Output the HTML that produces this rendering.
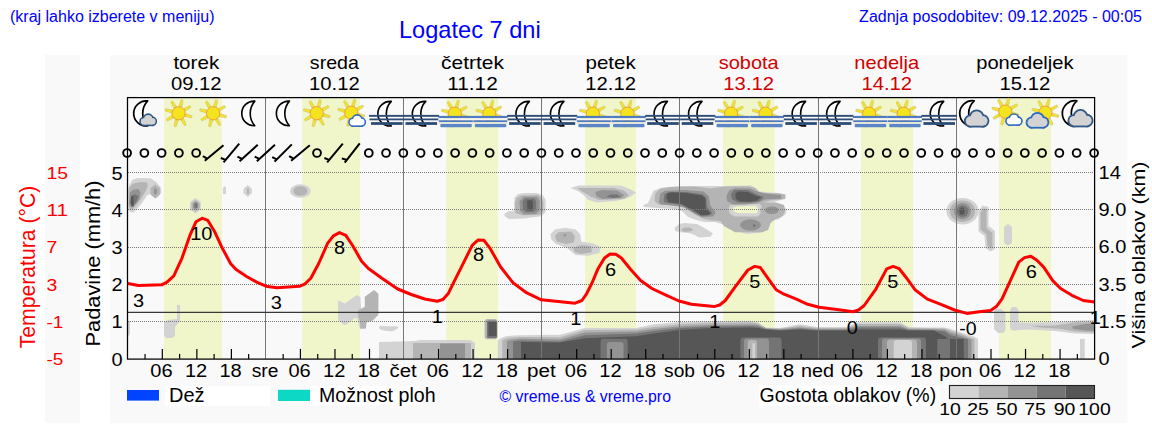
<!DOCTYPE html>
<html><head><meta charset="utf-8"><style>
html,body{margin:0;padding:0;background:#fff;overflow:hidden;}
svg{display:block;font-family:'Liberation Sans', sans-serif;}
</style></head><body>
<svg width="1152" height="443" viewBox="0 0 1152 443">
<rect x="0" y="0" width="1152" height="443" fill="#fff"/>
<rect x="45" y="55" width="35" height="368" fill="#f9f9f9"/>
<rect x="110" y="55" width="1017.5" height="368" fill="#f9f9f9"/>
<rect x="164" y="97.6" width="58.0" height="261.2" fill="#f0f6c9"/>
<rect x="302.2" y="97.6" width="57.8" height="261.2" fill="#f0f6c9"/>
<rect x="446.3" y="97.6" width="51.7" height="261.2" fill="#f0f6c9"/>
<rect x="585" y="97.6" width="51.0" height="261.2" fill="#f0f6c9"/>
<rect x="723" y="97.6" width="51.5" height="261.2" fill="#f0f6c9"/>
<rect x="861" y="97.6" width="52.0" height="261.2" fill="#f0f6c9"/>
<rect x="999" y="97.6" width="52.0" height="261.2" fill="#f0f6c9"/>
<g shape-rendering="auto">
<polygon points="129.2,185.5 132.3,179.8 137.5,178.0 150.5,178.2 156.2,181.9 160.8,187.6 161.4,192.8 156.2,198.5 151.0,193.5 146.8,195.4 142.7,202.1 137.5,208.4 133.3,212.5 129.7,212.0 128.2,206.3 128.2,190.0" fill="#d3d3d3" />
<polygon points="129.2,187.6 133.3,183.4 140.6,181.9 146.8,182.4 147.9,185.5 145.8,190.7 141.6,198.0 136.4,205.2 132.3,210.0 129.2,208.4" fill="#b3b4b3" />
<polygon points="155.1,184.5 159.8,188.0 159.8,194.5 155.1,198.5 150.5,194.5 150.5,188.0" fill="#b3b4b3" />
<polygon points="129.7,192.8 133.3,189.7 138.5,189.1 140.6,192.8 139.5,199.0 135.4,204.2 131.2,207.3 129.2,205.2" fill="#939393" />
<polygon points="155.3,187.6 156.9,190.0 156.9,193.0 155.3,194.9 153.9,193.0 153.9,190.0" fill="#939393" />
<polygon points="131.2,195.4 135.4,194.3 138.5,196.4 136.4,202.1 132.8,206.3 130.2,203.2" fill="#747474" />
<polygon points="131.2,196.4 133.3,195.9 133.8,206.3 131.7,206.8 130.7,202.1" fill="#565656" />
<polygon points="195.4,198.0 200.8,202.0 200.8,209.5 195.4,213.6 190.0,209.5 190.0,202.0" fill="#d3d3d3" />
<polygon points="195.6,200.0 199.8,203.0 199.8,208.5 195.6,211.5 191.5,208.5 191.5,203.0" fill="#b3b4b3" />
<polygon points="195.6,201.6 198.2,204.0 198.2,207.5 195.6,209.4 193.0,207.5 193.0,204.0" fill="#939393" />
<rect x="194.6" y="203.2" width="2.6" height="4.6" rx="0" fill="#747474"/>
<polygon points="223.0,188.0 224.5,186.0 226.0,188.0 226.0,194.0 223.0,194.0" fill="#d3d3d3" />
<polygon points="247.7,185.0 252.0,189.0 252.0,193.0 247.7,197.0 243.4,193.0 243.4,189.0" fill="#d3d3d3" />
<rect x="247" y="188.5" width="2.0" height="5.5" rx="0" fill="#b3b4b3"/>
<polygon points="177.0,305.0 180.0,305.0 180.0,321.0 175.0,327.0 175.0,336.0 172.0,338.0 166.0,338.0 164.0,335.0 164.0,322.0 168.0,320.0 177.0,319.0" fill="#d3d3d3" />
<polygon points="127.8,321.0 130.0,321.0 130.0,334.0 127.8,337.0" fill="#d3d3d3" />
<ellipse cx="300.4" cy="191" rx="10.4" ry="6.8" fill="#d3d3d3"/>
<ellipse cx="300.4" cy="191" rx="7" ry="4.8" fill="#b3b4b3"/>
<polygon points="338.1,300.5 344.9,303.6 356.7,294.9 360.4,296.8 361.1,308.6 359.2,318.5 354.8,317.9 346.1,324.8 343.7,324.8 338.1,319.8" fill="#d3d3d3" />
<polygon points="357.0,318.0 366.0,320.0 366.0,329.0 360.0,329.0" fill="#d3d3d3" />
<polygon points="358.0,310.5 364.8,306.7 364.8,296.8 374.1,290.0 378.4,293.7 378.4,314.8 372.2,321.0 366.6,322.3 366.0,327.9 360.4,328.5 359.8,321.0 358.0,316.0" fill="#b3b4b3" />
<polygon points="379.1,326.0 398.9,326.6 397.1,329.1 392.1,331.6 382.2,330.3 379.1,328.5" fill="#d3d3d3" />
<polygon points="379.0,358.8 379.0,342.0 415.0,341.0 420.0,340.0 470.0,340.0 475.0,343.0 475.0,358.8" fill="#d3d3d3" />
<rect x="413" y="343" width="58.0" height="15.8" rx="0" fill="#b3b4b3"/>
<rect x="440" y="343.5" width="25.0" height="15.3" rx="0" fill="#939393"/>
<rect x="484.6" y="319" width="12.9" height="20.3" rx="3" fill="#b3b4b3"/>
<rect x="487" y="320.5" width="10.0" height="17.5" rx="1.5" fill="#747474"/>
<rect x="488.5" y="322" width="7.9" height="14.0" rx="0" fill="#565656"/>
<polygon points="504.1,213.9 508.1,211.2 514.0,210.7 514.5,197.6 518.1,194.0 524.4,193.0 536.1,193.1 542.5,194.9 545.6,199.5 545.6,212.1 541.6,216.2 535.2,217.1 524.4,218.4 509.0,218.9 505.0,216.6" fill="#d3d3d3" />
<polygon points="516.3,198.5 520.8,195.4 537.9,194.9 541.6,197.6 543.4,202.2 543.4,211.2 539.7,214.8 522.6,215.3 515.4,213.0 514.9,203.1" fill="#b3b4b3" />
<polygon points="519.4,201.3 523.5,196.7 537.0,196.7 539.7,200.4 539.7,210.3 536.1,213.9 524.4,214.4 520.3,211.2" fill="#939393" />
<polygon points="522.6,201.3 525.3,198.5 534.3,198.5 536.1,201.3 536.1,209.4 533.4,212.1 526.2,212.1 523.0,209.4" fill="#747474" />
<polygon points="527.1,200.4 532.1,199.9 533.0,203.1 533.0,209.4 530.7,210.7 527.6,210.3 527.1,204.9" fill="#565656" />
<polygon points="570.3,188.1 578.4,185.4 620.8,185.4 629.8,189.0 636.2,192.6 629.8,197.1 617.2,200.8 597.3,202.6 588.3,199.9 582.9,194.4 577.5,190.8" fill="#d3d3d3" />
<polygon points="577.5,188.1 613.6,188.1 624.4,190.8 628.9,195.3 624.4,199.0 599.2,199.9 590.1,196.2 581.1,190.8" fill="#b3b4b3" />
<polygon points="595.5,191.7 602.8,189.9 617.2,190.8 624.4,195.3 620.8,198.1 602.8,199.0 596.4,196.2" fill="#939393" />
<polygon points="606.4,197.1 610.0,194.4 617.2,194.4 620.8,197.1 613.6,198.1" fill="#747474" />
<polygon points="550.4,234.2 554.9,229.6 564.9,227.8 575.7,229.6 580.2,234.2 581.1,241.4 592.0,243.2 601.0,246.8 599.2,253.1 588.3,255.8 575.7,254.9 566.7,247.7 555.8,244.1 551.3,239.6" fill="#d3d3d3" />
<polygon points="554.9,236.0 558.5,232.3 571.2,231.4 574.8,236.0 573.9,242.3 565.8,244.1 556.7,241.4" fill="#b3b4b3" />
<polygon points="573.0,247.7 581.1,245.0 591.0,245.9 591.9,252.2 581.1,254.0 574.8,252.2" fill="#b3b4b3" />
<polygon points="563.0,234.2 566.7,234.2 564.9,236.9" fill="#939393" />
<path fill-rule="evenodd" fill="#d3d3d3" d="M643.4,205 L648.1,203 L653.5,190.8 L661.7,187.4 L680.6,186.1 L720,186.1 L723.1,186.1 L751.5,185.4 L759.7,191.5 L778.6,192.9 L785.4,196.2 L782.7,199.6 L774.5,201.7 L782.7,204.4 L786.7,209.8 L785.4,214.5 L778.6,219.2 L770.5,221.3 L769.1,227.4 L761,232.8 L746.1,234.1 L735.3,230.7 L724.5,224.7 L715,222 L703.6,222 L694.1,219.2 L687.4,216.5 L682,211.1 L673.8,209.1 L653.5,207.7 L644,207 Z M732.6,207.7 L736.7,206.4 L755.6,205.7 L758.3,208.4 L757,213.2 L739.4,213.2 L734,211.8 Z"/>
<path fill-rule="evenodd" fill="#b3b4b3" d="M655.3,193.5 L659.9,189 L670.7,187.1 L694.2,186.6 L710.4,188.5 L721.2,187 L726.6,186.5 L748.3,186.3 L755.5,188 L759.1,192 L766.4,193 L780.8,193.5 L785.4,194.5 L785.4,199 L770,200.5 L764,202.5 L776,202.8 L784,205 L785,211 L782.6,216 L775,219.3 L770.5,223 L768,230 L762,232.2 L735,232.2 L724,226 L720.5,221 L712.2,220.5 L703.2,218.7 L694.2,214.2 L686.9,208.8 L676.1,205.2 L658,204.3 L654.4,200.7 Z M729.5,205.5 L735,204.5 L760,204 L762,207 L760.5,213.5 L758,216.5 L735,216.5 L730,214 L728.5,210 Z"/>
<polygon points="658.9,201.7 660.3,193.5 665.0,190.8 684.7,190.1 703.6,191.5 709.0,196.2 710.4,205.7 715.8,212.5 713.1,216.5 702.2,217.2 694.1,213.2 683.3,207.1 667.1,205.0 660.3,204.4" fill="#939393" />
<polygon points="726.4,196.0 729.0,190.5 735.0,188.3 750.0,188.5 757.0,191.5 765.0,193.5 781.0,195.0 781.3,198.5 765.0,199.5 757.0,203.0 745.0,204.5 733.0,204.5 727.0,201.0" fill="#939393" />
<polygon points="663.7,200.3 664.4,194.2 668.4,192.2 686.0,191.9 702.2,194.2 706.3,197.6 707.0,207.1 712.4,213.2 709.0,215.5 700.9,215.9 691.4,210.4 682.0,205.0 667.1,203.0 664.4,202.3" fill="#747474" />
<polygon points="731.0,194.0 734.0,190.0 748.0,190.0 757.0,194.5 763.7,197.0 760.0,201.0 752.0,202.4 738.0,202.4 732.0,199.5" fill="#747474" />
<polygon points="666.4,197.6 667.1,193.5 671.1,192.2 686.0,192.9 702.2,195.6 705.6,198.9 705.6,208.4 710.4,213.2 707.7,214.9 700.9,214.9 691.4,209.1 680.6,203.7 668.4,202.3" fill="#565656" />
<polygon points="735.2,194.0 738.0,191.5 748.0,192.0 756.0,196.0 761.0,197.0 757.0,200.5 750.0,201.7 740.0,201.5 736.0,199.0" fill="#565656" />
<ellipse cx="750.5" cy="225" rx="10.5" ry="5.8" fill="#939393"/>
<ellipse cx="754.2" cy="225.4" rx="1.2" ry="1.5" fill="#747474"/>
<ellipse cx="772" cy="211" rx="11.5" ry="8" fill="#b3b4b3"/>
<ellipse cx="771.8" cy="210.2" rx="6.8" ry="3.8" fill="#939393"/>
<polygon points="674.5,228.0 679.2,224.0 684.7,223.0 696.8,224.0 703.6,227.4 713.1,233.5 710.4,236.8 699.5,237.5 691.4,233.5 679.2,232.1 675.2,230.7" fill="#d3d3d3" />
<polygon points="681.3,229.4 684.7,227.4 690.0,227.4 693.5,230.0 690.0,231.4 683.3,231.7" fill="#b3b4b3" />
<ellipse cx="962.5" cy="211.2" rx="16" ry="13.3" fill="#d3d3d3"/>
<ellipse cx="962.5" cy="211.2" rx="12.5" ry="10.8" fill="#b3b4b3"/>
<ellipse cx="962.5" cy="211.2" rx="8.5" ry="8.3" fill="#939393"/>
<ellipse cx="962.5" cy="211.2" rx="5.8" ry="5.8" fill="#747474"/>
<ellipse cx="962" cy="211.2" rx="2.6" ry="3.6" fill="#565656"/>
<polygon points="978.5,211.0 982.5,205.5 988.5,207.0 988.5,226.0 995.0,231.0 995.0,249.0 990.5,251.5 985.5,248.0 984.5,236.0 978.5,231.5" fill="#d3d3d3" />
<polygon points="980.5,212.5 983.5,208.5 986.5,209.0 986.5,228.0 992.5,233.0 992.5,247.0 990.5,248.5 987.5,246.0 986.5,234.5 980.5,229.5" fill="#b3b4b3" />
<polygon points="1004.0,227.0 1008.0,224.0 1012.0,227.0 1012.0,243.0 1008.0,245.5 1004.0,243.0" fill="#d3d3d3" />
<polygon points="497.8,358.8 497.8,341.0 500.0,338.5 505.0,336.5 510.0,335.8 520.0,335.3 560.0,334.7 585.0,327.9 636.0,327.9 654.0,324.2 680.0,322.0 710.0,321.2 750.0,320.7 758.0,322.5 766.0,327.5 780.0,328.0 800.0,324.3 817.0,327.0 846.0,327.0 858.0,322.3 900.0,322.3 909.0,327.0 930.0,327.5 944.5,327.5 950.0,328.8 962.7,333.0 974.4,336.7 978.0,338.9 978.0,358.8" fill="#d3d3d3" />
<polygon points="502.3,358.8 502.3,340.0 505.0,339.0 510.0,337.8 520.0,337.0 560.0,337.3 585.0,330.0 636.0,329.5 654.0,326.9 680.0,324.2 710.0,323.0 750.0,322.5 758.0,323.5 766.0,328.0 780.0,328.5 800.0,326.0 817.0,328.0 846.0,328.0 858.0,324.0 900.0,324.0 909.0,328.0 930.0,328.3 944.5,328.6 950.0,330.5 962.7,334.5 971.0,338.0 974.5,339.0 974.5,358.8" fill="#b3b4b3" />
<polygon points="506.9,358.8 506.9,341.0 510.0,340.0 520.0,338.8 560.0,339.4 585.0,332.6 636.0,331.5 654.0,329.0 680.0,326.2 710.0,325.0 750.0,324.5 758.0,325.0 766.0,328.5 780.0,329.2 800.0,327.5 817.0,329.0 846.0,329.0 858.0,325.9 900.0,325.9 909.0,329.0 930.0,329.2 944.5,329.5 950.0,332.5 962.7,336.2 968.0,338.6 971.5,339.5 971.5,358.8" fill="#939393" />
<polygon points="513.0,358.8 513.0,341.5 520.0,340.5 560.0,341.4 585.0,335.2 636.0,333.6 654.0,331.0 680.0,328.0 710.0,326.5 750.0,326.0 758.0,326.5 766.0,329.0 780.0,330.0 800.0,328.5 817.0,330.0 846.0,330.0 858.0,327.5 900.0,327.5 909.0,330.0 930.0,330.0 944.5,331.3 950.0,335.0 962.7,338.2 968.0,339.0 968.0,358.8" fill="#747474" />
<polygon points="521.0,358.8 521.0,342.0 560.0,342.6 585.0,338.3 636.0,336.2 654.0,333.6 680.0,330.0 710.0,328.0 750.0,327.5 758.0,328.0 766.0,329.5 780.0,330.6 800.0,329.5 817.0,330.6 846.0,330.6 858.0,329.5 900.0,329.5 909.0,330.6 930.0,330.4 934.0,330.4 946.8,337.3 947.0,339.0 937.3,339.0 937.3,358.8" fill="#565656" />
<rect x="950" y="338.9" width="13.8" height="19.9" rx="0" fill="#565656"/>
<path d="M600.6,358.8 L600.6,341.8 Q600.6,338.8 603.6,338.8 L624.7,338.8 Q627.7,338.8 627.7,341.8 L627.7,358.8Z" fill="#747474"/>
<path d="M606.9,358.8 L606.9,345 Q606.9,342 609.9,342 L620.5,342 Q623.5,342 623.5,345 L623.5,358.8Z" fill="#939393"/>
<path d="M740.4,358.8 L740.4,340.4 Q740.4,337.4 743.4,337.4 L778.6,337.4 Q781.6,337.4 781.6,340.4 L781.6,358.8Z" fill="#747474"/>
<path d="M744,358.8 L744,341.4 Q744,338.4 747,338.4 L766,338.4 Q769,338.4 769,341.4 L769,358.8Z" fill="#939393"/>
<path d="M747.7,358.8 L747.7,342.5 Q747.7,340 750.2,340 L754.5,340 Q757,340 757,342.5 L757,358.8Z" fill="#b3b4b3"/>
<path d="M752.4,358.8 L752.4,344.2 Q752.4,343 753.6,343 L753.8,343 Q755,343 755,344.2 L755,358.8Z" fill="#d3d3d3"/>
<path d="M878,358.8 L878,340.4 Q878,337.4 881,337.4 L923,337.4 Q926,337.4 926,340.4 L926,358.8Z" fill="#747474"/>
<path d="M882,358.8 L882,341.4 Q882,338.4 885,338.4 L918,338.4 Q921,338.4 921,341.4 L921,358.8Z" fill="#939393"/>
<path d="M887,358.8 L887,342.4 Q887,339.4 890,339.4 L914,339.4 Q917,339.4 917,342.4 L917,358.8Z" fill="#b3b4b3"/>
<path d="M893.75,358.8 L893.75,343 Q893.75,340 896.75,340 L909,340 Q912,340 912,343 L912,358.8Z" fill="#d3d3d3"/>
<polygon points="996.0,308.7 1001.0,308.7 1005.4,313.0 1005.4,330.0 1003.0,333.0 998.0,333.0 994.0,329.0 994.0,312.0" fill="#d3d3d3" />
<polygon points="1012.0,307.0 1016.0,307.0 1018.5,310.0 1018.5,322.5 1030.0,322.8 1060.0,322.0 1080.0,320.5 1094.6,320.0 1094.6,334.0 1075.0,333.5 1055.0,331.0 1030.0,329.5 1018.5,330.0 1016.0,330.6 1012.0,330.6 1010.0,328.0 1010.0,310.0" fill="#d3d3d3" />
<polygon points="1030.0,325.8 1055.0,325.5 1075.0,322.5 1094.6,322.0 1094.6,332.5 1075.0,331.5 1060.0,328.8 1040.0,327.5" fill="#b3b4b3" />
<polygon points="1072.0,326.5 1085.0,324.0 1094.6,323.8 1094.6,331.0 1085.0,330.5 1073.0,328.8" fill="#939393" />
<rect x="1080" y="338.9" width="4.7" height="19.9" rx="0" fill="#d3d3d3"/>
</g>
<line x1="128" y1="321.50" x2="1094" y2="321.50" stroke="#7a7a7a" stroke-width="1" stroke-dasharray="1,1" shape-rendering="crispEdges"/>
<line x1="128" y1="284.50" x2="1094" y2="284.50" stroke="#7a7a7a" stroke-width="1" stroke-dasharray="1,1" shape-rendering="crispEdges"/>
<line x1="128" y1="247.50" x2="1094" y2="247.50" stroke="#7a7a7a" stroke-width="1" stroke-dasharray="1,1" shape-rendering="crispEdges"/>
<line x1="128" y1="209.50" x2="1094" y2="209.50" stroke="#7a7a7a" stroke-width="1" stroke-dasharray="1,1" shape-rendering="crispEdges"/>
<line x1="128" y1="172.50" x2="1094" y2="172.50" stroke="#7a7a7a" stroke-width="1" stroke-dasharray="1,1" shape-rendering="crispEdges"/>
<line x1="265.50" y1="97.6" x2="265.50" y2="358.8" stroke="#767676" stroke-width="1"/>
<line x1="403.50" y1="97.6" x2="403.50" y2="358.8" stroke="#767676" stroke-width="1"/>
<line x1="541.50" y1="97.6" x2="541.50" y2="358.8" stroke="#767676" stroke-width="1"/>
<line x1="679.50" y1="97.6" x2="679.50" y2="358.8" stroke="#767676" stroke-width="1"/>
<line x1="818.50" y1="97.6" x2="818.50" y2="358.8" stroke="#767676" stroke-width="1"/>
<line x1="956.50" y1="97.6" x2="956.50" y2="358.8" stroke="#767676" stroke-width="1"/>
<line x1="127.8" y1="312.4" x2="1094.6" y2="312.4" stroke="#383838" stroke-width="1.15"/>
<polyline points="127.8,283.5 138.5,285.4 161.6,284.8 167.0,282.1 173.8,275.9 181.9,258.3 190.0,235.2 196.0,221.7 202.2,218.2 207.7,220.3 214.4,231.2 222.6,248.8 230.7,263.7 236.1,269.6 247.0,276.7 257.8,282.7 266.0,286.2 276.9,287.7 299.5,286.3 305.1,283.8 310.8,278.2 318.7,263.5 327.7,243.2 333.4,235.8 339.5,232.6 345.8,235.3 352.6,245.5 361.6,261.3 368.4,268.5 381.9,278.2 397.7,289.0 411.3,294.5 424.8,299.0 437.2,301.3 442.9,299.5 448.5,293.2 454.2,281.4 461.0,267.9 472.2,245.3 477.9,240.1 484.0,240.3 490.3,248.7 500.5,266.8 512.9,282.6 526.4,292.7 541.3,299.8 575.1,303.2 581.9,300.5 586.4,294.2 592.0,283.0 597.7,269.3 604.5,258.0 610.1,254.0 615.8,254.2 621.4,258.0 630.5,269.3 640.6,280.6 651.9,288.5 665.4,294.9 679.0,301.0 691.4,304.3 703.9,305.5 714.0,306.6 719.7,305.0 725.3,300.5 735.5,286.3 747.9,270.0 754.7,266.4 760.3,267.5 767.1,277.2 776.1,289.7 784.0,294.2 796.4,299.1 807.7,304.3 819.0,307.3 837.1,309.5 852.9,311.8 858.5,310.0 864.2,305.5 875.5,289.7 886.7,268.9 893.1,266.4 899.2,268.7 905.9,277.2 915.0,289.7 927.4,299.1 940.9,304.3 954.5,310.0 966.9,313.4 979.3,311.8 990.6,310.4 996.3,306.6 1001.9,299.1 1009.8,281.8 1018.8,262.1 1024.5,257.6 1030.8,256.3 1036.9,260.3 1043.7,267.1 1052.7,280.6 1060.6,288.5 1071.9,295.3 1083.2,300.5 1094.6,302.1" fill="none" stroke="#ff0000" stroke-width="3" stroke-linejoin="round"/>
<text x="138.5" y="306.9" font-size="17.5" fill="#000" text-anchor="middle" textLength="11.1" lengthAdjust="spacingAndGlyphs" >3</text>
<text x="201.3" y="240.1" font-size="17.5" fill="#000" text-anchor="middle" textLength="22.3" lengthAdjust="spacingAndGlyphs" >10</text>
<text x="276.3" y="308.8" font-size="17.5" fill="#000" text-anchor="middle" textLength="11.1" lengthAdjust="spacingAndGlyphs" >3</text>
<text x="339.5" y="253.9" font-size="17.5" fill="#000" text-anchor="middle" textLength="11.1" lengthAdjust="spacingAndGlyphs" >8</text>
<text x="437.2" y="322.6" font-size="17.5" fill="#000" text-anchor="middle" textLength="11.1" lengthAdjust="spacingAndGlyphs" >1</text>
<text x="478.6" y="260.5" font-size="17.5" fill="#000" text-anchor="middle" textLength="11.1" lengthAdjust="spacingAndGlyphs" >8</text>
<text x="575.8" y="325.2" font-size="17.5" fill="#000" text-anchor="middle" textLength="11.1" lengthAdjust="spacingAndGlyphs" >1</text>
<text x="610.6" y="275.5" font-size="17.5" fill="#000" text-anchor="middle" textLength="11.1" lengthAdjust="spacingAndGlyphs" >6</text>
<text x="714.7" y="327.9" font-size="17.5" fill="#000" text-anchor="middle" textLength="11.1" lengthAdjust="spacingAndGlyphs" >1</text>
<text x="754.7" y="288.0" font-size="17.5" fill="#000" text-anchor="middle" textLength="11.1" lengthAdjust="spacingAndGlyphs" >5</text>
<text x="852.2" y="333.8" font-size="17.5" fill="#000" text-anchor="middle" textLength="11.1" lengthAdjust="spacingAndGlyphs" >0</text>
<text x="892.8" y="288.0" font-size="17.5" fill="#000" text-anchor="middle" textLength="11.1" lengthAdjust="spacingAndGlyphs" >5</text>
<text x="968.0" y="335.4" font-size="17.5" fill="#000" text-anchor="middle" textLength="17.4" lengthAdjust="spacingAndGlyphs" >-0</text>
<text x="1031.3" y="277.8" font-size="17.5" fill="#000" text-anchor="middle" textLength="11.1" lengthAdjust="spacingAndGlyphs" >6</text>
<text x="1095.3" y="324.2" font-size="17.5" fill="#000" text-anchor="middle" textLength="11.1" lengthAdjust="spacingAndGlyphs" >1</text>
<rect x="127.5" y="97.6" width="967.1" height="261.5" fill="none" stroke="#000" stroke-width="1.25"/>
<line x1="145.06" y1="353.9" x2="145.06" y2="358.9" stroke="#000" stroke-width="1.2"/>
<line x1="162.33" y1="348.9" x2="162.33" y2="358.9" stroke="#000" stroke-width="1.2"/>
<line x1="179.59" y1="353.9" x2="179.59" y2="358.9" stroke="#000" stroke-width="1.2"/>
<line x1="196.86" y1="348.9" x2="196.86" y2="358.9" stroke="#000" stroke-width="1.2"/>
<line x1="214.12" y1="353.9" x2="214.12" y2="358.9" stroke="#000" stroke-width="1.2"/>
<line x1="231.39" y1="348.9" x2="231.39" y2="358.9" stroke="#000" stroke-width="1.2"/>
<line x1="248.65" y1="353.9" x2="248.65" y2="358.9" stroke="#000" stroke-width="1.2"/>
<line x1="283.18" y1="353.9" x2="283.18" y2="358.9" stroke="#000" stroke-width="1.2"/>
<line x1="300.44" y1="348.9" x2="300.44" y2="358.9" stroke="#000" stroke-width="1.2"/>
<line x1="317.71" y1="353.9" x2="317.71" y2="358.9" stroke="#000" stroke-width="1.2"/>
<line x1="334.97" y1="348.9" x2="334.97" y2="358.9" stroke="#000" stroke-width="1.2"/>
<line x1="352.24" y1="353.9" x2="352.24" y2="358.9" stroke="#000" stroke-width="1.2"/>
<line x1="369.50" y1="348.9" x2="369.50" y2="358.9" stroke="#000" stroke-width="1.2"/>
<line x1="386.76" y1="353.9" x2="386.76" y2="358.9" stroke="#000" stroke-width="1.2"/>
<line x1="421.29" y1="353.9" x2="421.29" y2="358.9" stroke="#000" stroke-width="1.2"/>
<line x1="438.56" y1="348.9" x2="438.56" y2="358.9" stroke="#000" stroke-width="1.2"/>
<line x1="455.82" y1="353.9" x2="455.82" y2="358.9" stroke="#000" stroke-width="1.2"/>
<line x1="473.09" y1="348.9" x2="473.09" y2="358.9" stroke="#000" stroke-width="1.2"/>
<line x1="490.35" y1="353.9" x2="490.35" y2="358.9" stroke="#000" stroke-width="1.2"/>
<line x1="507.61" y1="348.9" x2="507.61" y2="358.9" stroke="#000" stroke-width="1.2"/>
<line x1="524.88" y1="353.9" x2="524.88" y2="358.9" stroke="#000" stroke-width="1.2"/>
<line x1="559.41" y1="353.9" x2="559.41" y2="358.9" stroke="#000" stroke-width="1.2"/>
<line x1="576.67" y1="348.9" x2="576.67" y2="358.9" stroke="#000" stroke-width="1.2"/>
<line x1="593.94" y1="353.9" x2="593.94" y2="358.9" stroke="#000" stroke-width="1.2"/>
<line x1="611.20" y1="348.9" x2="611.20" y2="358.9" stroke="#000" stroke-width="1.2"/>
<line x1="628.46" y1="353.9" x2="628.46" y2="358.9" stroke="#000" stroke-width="1.2"/>
<line x1="645.73" y1="348.9" x2="645.73" y2="358.9" stroke="#000" stroke-width="1.2"/>
<line x1="662.99" y1="353.9" x2="662.99" y2="358.9" stroke="#000" stroke-width="1.2"/>
<line x1="697.52" y1="353.9" x2="697.52" y2="358.9" stroke="#000" stroke-width="1.2"/>
<line x1="714.79" y1="348.9" x2="714.79" y2="358.9" stroke="#000" stroke-width="1.2"/>
<line x1="732.05" y1="353.9" x2="732.05" y2="358.9" stroke="#000" stroke-width="1.2"/>
<line x1="749.31" y1="348.9" x2="749.31" y2="358.9" stroke="#000" stroke-width="1.2"/>
<line x1="766.58" y1="353.9" x2="766.58" y2="358.9" stroke="#000" stroke-width="1.2"/>
<line x1="783.84" y1="348.9" x2="783.84" y2="358.9" stroke="#000" stroke-width="1.2"/>
<line x1="801.11" y1="353.9" x2="801.11" y2="358.9" stroke="#000" stroke-width="1.2"/>
<line x1="835.64" y1="353.9" x2="835.64" y2="358.9" stroke="#000" stroke-width="1.2"/>
<line x1="852.90" y1="348.9" x2="852.90" y2="358.9" stroke="#000" stroke-width="1.2"/>
<line x1="870.16" y1="353.9" x2="870.16" y2="358.9" stroke="#000" stroke-width="1.2"/>
<line x1="887.43" y1="348.9" x2="887.43" y2="358.9" stroke="#000" stroke-width="1.2"/>
<line x1="904.69" y1="353.9" x2="904.69" y2="358.9" stroke="#000" stroke-width="1.2"/>
<line x1="921.96" y1="348.9" x2="921.96" y2="358.9" stroke="#000" stroke-width="1.2"/>
<line x1="939.22" y1="353.9" x2="939.22" y2="358.9" stroke="#000" stroke-width="1.2"/>
<line x1="973.75" y1="353.9" x2="973.75" y2="358.9" stroke="#000" stroke-width="1.2"/>
<line x1="991.01" y1="348.9" x2="991.01" y2="358.9" stroke="#000" stroke-width="1.2"/>
<line x1="1008.28" y1="353.9" x2="1008.28" y2="358.9" stroke="#000" stroke-width="1.2"/>
<line x1="1025.54" y1="348.9" x2="1025.54" y2="358.9" stroke="#000" stroke-width="1.2"/>
<line x1="1042.81" y1="353.9" x2="1042.81" y2="358.9" stroke="#000" stroke-width="1.2"/>
<line x1="1060.07" y1="348.9" x2="1060.07" y2="358.9" stroke="#000" stroke-width="1.2"/>
<line x1="1077.34" y1="353.9" x2="1077.34" y2="358.9" stroke="#000" stroke-width="1.2"/>
<path d="M147.7,100.9 A12.58,12.58 0 1,0 147.7,125.9 A18.12,18.12 0 0,1 147.7,100.9Z" fill="#fff" stroke="#000" stroke-width="1.7" stroke-linejoin="round"/>
<g fill="#2f5684" stroke="#2f5684" stroke-width="3.2"><circle cx="143.96" cy="121.40" r="3.16"/><circle cx="148.18" cy="118.95" r="4.04"/><circle cx="152.30" cy="121.32" r="3.25"/><rect x="143.96" y="120.44" width="8.34" height="4.13"/></g>
<g fill="#d3d3d3"><circle cx="143.96" cy="121.40" r="3.16"/><circle cx="148.18" cy="118.95" r="4.04"/><circle cx="152.30" cy="121.32" r="3.25"/><rect x="143.96" y="120.44" width="8.34" height="4.13"/></g>
<polygon points="184.97,116.56 191.55,117.86 192.10,115.83 185.74,113.66" fill="#f3e526" stroke="#cfc070" stroke-width="0.6" stroke-linejoin="round"/>
<polygon points="180.79,120.11 184.53,125.69 186.35,124.64 183.39,118.61" fill="#f3e526" stroke="#cfc070" stroke-width="0.6" stroke-linejoin="round"/>
<polygon points="175.33,119.67 174.03,126.26 176.06,126.80 178.23,120.45" fill="#f3e526" stroke="#cfc070" stroke-width="0.6" stroke-linejoin="round"/>
<polygon points="171.78,115.50 166.20,119.24 167.25,121.06 173.28,118.10" fill="#f3e526" stroke="#cfc070" stroke-width="0.6" stroke-linejoin="round"/>
<polygon points="172.22,110.04 165.63,108.74 165.09,110.77 171.44,112.94" fill="#f3e526" stroke="#cfc070" stroke-width="0.6" stroke-linejoin="round"/>
<polygon points="176.39,106.49 172.65,100.91 170.83,101.96 173.79,107.99" fill="#f3e526" stroke="#cfc070" stroke-width="0.6" stroke-linejoin="round"/>
<polygon points="181.85,106.93 183.15,100.34 181.12,99.80 178.96,106.15" fill="#f3e526" stroke="#cfc070" stroke-width="0.6" stroke-linejoin="round"/>
<polygon points="185.41,111.10 190.98,107.36 189.93,105.54 183.91,108.50" fill="#f3e526" stroke="#cfc070" stroke-width="0.6" stroke-linejoin="round"/>
<circle cx="178.59" cy="113.30" r="6.6" fill="#f3e41e" stroke="#f0a030" stroke-width="1"/>
<polygon points="219.49,116.56 226.08,117.86 226.63,115.83 220.27,113.66" fill="#f3e526" stroke="#cfc070" stroke-width="0.6" stroke-linejoin="round"/>
<polygon points="215.32,120.11 219.06,125.69 220.88,124.64 217.92,118.61" fill="#f3e526" stroke="#cfc070" stroke-width="0.6" stroke-linejoin="round"/>
<polygon points="209.86,119.67 208.56,126.26 210.59,126.80 212.76,120.45" fill="#f3e526" stroke="#cfc070" stroke-width="0.6" stroke-linejoin="round"/>
<polygon points="206.31,115.50 200.73,119.24 201.78,121.06 207.81,118.10" fill="#f3e526" stroke="#cfc070" stroke-width="0.6" stroke-linejoin="round"/>
<polygon points="206.75,110.04 200.16,108.74 199.62,110.77 205.97,112.94" fill="#f3e526" stroke="#cfc070" stroke-width="0.6" stroke-linejoin="round"/>
<polygon points="210.92,106.49 207.18,100.91 205.36,101.96 208.32,107.99" fill="#f3e526" stroke="#cfc070" stroke-width="0.6" stroke-linejoin="round"/>
<polygon points="216.38,106.93 217.68,100.34 215.65,99.80 213.48,106.15" fill="#f3e526" stroke="#cfc070" stroke-width="0.6" stroke-linejoin="round"/>
<polygon points="219.93,111.10 225.51,107.36 224.46,105.54 218.43,108.50" fill="#f3e526" stroke="#cfc070" stroke-width="0.6" stroke-linejoin="round"/>
<circle cx="213.12" cy="113.30" r="6.6" fill="#f3e41e" stroke="#f0a030" stroke-width="1"/>
<path d="M254.8,101.1 A12.32,12.32 0 1,0 254.8,125.7 A18.74,18.74 0 0,1 254.8,101.1Z" fill="#fff" stroke="#000" stroke-width="1.6" stroke-linejoin="round"/>
<path d="M289.4,101.1 A12.32,12.32 0 1,0 289.4,125.7 A18.74,18.74 0 0,1 289.4,101.1Z" fill="#fff" stroke="#000" stroke-width="1.6" stroke-linejoin="round"/>
<polygon points="323.08,116.46 329.67,117.76 330.21,115.73 323.86,113.56" fill="#f3e526" stroke="#cfc070" stroke-width="0.6" stroke-linejoin="round"/>
<polygon points="318.91,120.01 322.65,125.59 324.47,124.54 321.51,118.51" fill="#f3e526" stroke="#cfc070" stroke-width="0.6" stroke-linejoin="round"/>
<polygon points="313.45,119.57 312.15,126.16 314.18,126.70 316.34,120.35" fill="#f3e526" stroke="#cfc070" stroke-width="0.6" stroke-linejoin="round"/>
<polygon points="309.89,115.40 304.32,119.14 305.37,120.96 311.39,118.00" fill="#f3e526" stroke="#cfc070" stroke-width="0.6" stroke-linejoin="round"/>
<polygon points="310.33,109.94 303.75,108.64 303.20,110.67 309.56,112.84" fill="#f3e526" stroke="#cfc070" stroke-width="0.6" stroke-linejoin="round"/>
<polygon points="314.51,106.39 310.77,100.81 308.95,101.86 311.91,107.89" fill="#f3e526" stroke="#cfc070" stroke-width="0.6" stroke-linejoin="round"/>
<polygon points="319.97,106.83 321.27,100.24 319.24,99.70 317.07,106.05" fill="#f3e526" stroke="#cfc070" stroke-width="0.6" stroke-linejoin="round"/>
<polygon points="323.52,111.00 329.10,107.26 328.05,105.44 322.02,108.40" fill="#f3e526" stroke="#cfc070" stroke-width="0.6" stroke-linejoin="round"/>
<circle cx="316.71" cy="113.20" r="6.6" fill="#f3e41e" stroke="#f0a030" stroke-width="1"/>
<polygon points="357.61,116.06 364.20,117.36 364.74,115.33 358.39,113.16" fill="#f3e526" stroke="#cfc070" stroke-width="0.6" stroke-linejoin="round"/>
<polygon points="353.44,119.61 357.18,125.19 359.00,124.14 356.03,118.11" fill="#f3e526" stroke="#cfc070" stroke-width="0.6" stroke-linejoin="round"/>
<polygon points="347.98,119.17 346.68,125.76 348.70,126.30 350.87,119.95" fill="#f3e526" stroke="#cfc070" stroke-width="0.6" stroke-linejoin="round"/>
<polygon points="344.42,115.00 338.85,118.74 339.90,120.56 345.92,117.60" fill="#f3e526" stroke="#cfc070" stroke-width="0.6" stroke-linejoin="round"/>
<polygon points="344.86,109.54 338.27,108.24 337.73,110.27 344.09,112.44" fill="#f3e526" stroke="#cfc070" stroke-width="0.6" stroke-linejoin="round"/>
<polygon points="349.03,105.99 345.30,100.41 343.48,101.46 346.44,107.49" fill="#f3e526" stroke="#cfc070" stroke-width="0.6" stroke-linejoin="round"/>
<polygon points="354.50,106.43 355.80,99.84 353.77,99.30 351.60,105.65" fill="#f3e526" stroke="#cfc070" stroke-width="0.6" stroke-linejoin="round"/>
<polygon points="358.05,110.60 363.63,106.86 362.58,105.04 356.55,108.00" fill="#f3e526" stroke="#cfc070" stroke-width="0.6" stroke-linejoin="round"/>
<circle cx="351.24" cy="112.80" r="6.6" fill="#f3e41e" stroke="#f0a030" stroke-width="1"/>
<g fill="#2d68c0" stroke="#2d68c0" stroke-width="3.2"><circle cx="352.96" cy="122.20" r="3.16"/><circle cx="357.18" cy="119.75" r="4.04"/><circle cx="361.30" cy="122.12" r="3.25"/><rect x="352.96" y="121.24" width="8.34" height="4.13"/></g>
<g fill="#ffffff"><circle cx="352.96" cy="122.20" r="3.16"/><circle cx="357.18" cy="119.75" r="4.04"/><circle cx="361.30" cy="122.12" r="3.25"/><rect x="352.96" y="121.24" width="8.34" height="4.13"/></g>
<path d="M391.3,101.4 A12.35,12.35 0 1,0 391.3,126.0 A17.63,17.63 0 0,1 391.3,101.4Z" fill="#fff" stroke="#000" stroke-width="1.6" stroke-linejoin="round"/>
<rect x="369.0" y="114.9" width="35.6" height="1.9" fill="#2e4d74"/>
<rect x="369.5" y="118.5" width="34.6" height="1.8" fill="#2e4d74"/>
<rect x="371.0" y="122.1" width="31.6" height="2.8" fill="#2e4d74"/>
<path d="M425.8,101.4 A12.35,12.35 0 1,0 425.8,126.0 A17.63,17.63 0 0,1 425.8,101.4Z" fill="#fff" stroke="#000" stroke-width="1.6" stroke-linejoin="round"/>
<rect x="403.5" y="114.9" width="35.6" height="1.9" fill="#2e4d74"/>
<rect x="404.0" y="118.5" width="34.6" height="1.8" fill="#2e4d74"/>
<rect x="405.5" y="122.1" width="31.6" height="2.8" fill="#2e4d74"/>
<polygon points="461.19,116.96 467.78,118.26 468.33,116.23 461.97,114.06" fill="#f3e526" stroke="#cfc070" stroke-width="0.6" stroke-linejoin="round"/>
<polygon points="457.02,120.51 460.76,126.09 462.58,125.04 459.62,119.01" fill="#f3e526" stroke="#cfc070" stroke-width="0.6" stroke-linejoin="round"/>
<polygon points="451.56,120.07 450.26,126.66 452.29,127.20 454.46,120.85" fill="#f3e526" stroke="#cfc070" stroke-width="0.6" stroke-linejoin="round"/>
<polygon points="448.01,115.90 442.43,119.64 443.48,121.46 449.51,118.50" fill="#f3e526" stroke="#cfc070" stroke-width="0.6" stroke-linejoin="round"/>
<polygon points="448.45,110.44 441.86,109.14 441.32,111.17 447.67,113.34" fill="#f3e526" stroke="#cfc070" stroke-width="0.6" stroke-linejoin="round"/>
<polygon points="452.62,106.89 448.88,101.31 447.06,102.36 450.02,108.39" fill="#f3e526" stroke="#cfc070" stroke-width="0.6" stroke-linejoin="round"/>
<polygon points="458.08,107.33 459.38,100.74 457.35,100.20 455.18,106.55" fill="#f3e526" stroke="#cfc070" stroke-width="0.6" stroke-linejoin="round"/>
<polygon points="461.63,111.50 467.21,107.76 466.16,105.94 460.13,108.90" fill="#f3e526" stroke="#cfc070" stroke-width="0.6" stroke-linejoin="round"/>
<circle cx="454.82" cy="113.70" r="6.6" fill="#f3e41e" stroke="#f0a030" stroke-width="1"/>
<rect x="438.5" y="115.6" width="34.6" height="12" fill="#f9f9f9" opacity="0"/>
<rect x="438.5" y="115.9" width="34.6" height="2.3" fill="#4f7bc2"/>
<rect x="438.5" y="118.2" width="34.6" height="2.1" fill="#f4f4f0"/>
<rect x="438.8" y="120.3" width="34" height="1.8" fill="#4f7bc2"/>
<rect x="438.8" y="122.1" width="34" height="2" fill="#e4e4dc"/>
<rect x="440.3" y="124.1" width="31.5" height="3.1" rx="1" fill="#5a86c8"/>
<polygon points="495.72,116.96 502.31,118.26 502.85,116.23 496.50,114.06" fill="#f3e526" stroke="#cfc070" stroke-width="0.6" stroke-linejoin="round"/>
<polygon points="491.55,120.51 495.29,126.09 497.11,125.04 494.15,119.01" fill="#f3e526" stroke="#cfc070" stroke-width="0.6" stroke-linejoin="round"/>
<polygon points="486.09,120.07 484.79,126.66 486.82,127.20 488.99,120.85" fill="#f3e526" stroke="#cfc070" stroke-width="0.6" stroke-linejoin="round"/>
<polygon points="482.54,115.90 476.96,119.64 478.01,121.46 484.04,118.50" fill="#f3e526" stroke="#cfc070" stroke-width="0.6" stroke-linejoin="round"/>
<polygon points="482.98,110.44 476.39,109.14 475.85,111.17 482.20,113.34" fill="#f3e526" stroke="#cfc070" stroke-width="0.6" stroke-linejoin="round"/>
<polygon points="487.15,106.89 483.41,101.31 481.59,102.36 484.55,108.39" fill="#f3e526" stroke="#cfc070" stroke-width="0.6" stroke-linejoin="round"/>
<polygon points="492.61,107.33 493.91,100.74 491.88,100.20 489.71,106.55" fill="#f3e526" stroke="#cfc070" stroke-width="0.6" stroke-linejoin="round"/>
<polygon points="496.16,111.50 501.74,107.76 500.69,105.94 494.66,108.90" fill="#f3e526" stroke="#cfc070" stroke-width="0.6" stroke-linejoin="round"/>
<circle cx="489.35" cy="113.70" r="6.6" fill="#f3e41e" stroke="#f0a030" stroke-width="1"/>
<rect x="473.0" y="115.6" width="34.6" height="12" fill="#f9f9f9" opacity="0"/>
<rect x="473.0" y="115.9" width="34.6" height="2.3" fill="#4f7bc2"/>
<rect x="473.0" y="118.2" width="34.6" height="2.1" fill="#f4f4f0"/>
<rect x="473.3" y="120.3" width="34" height="1.8" fill="#4f7bc2"/>
<rect x="473.3" y="122.1" width="34" height="2" fill="#e4e4dc"/>
<rect x="474.8" y="124.1" width="31.5" height="3.1" rx="1" fill="#5a86c8"/>
<path d="M529.4,101.4 A12.35,12.35 0 1,0 529.4,126.0 A17.63,17.63 0 0,1 529.4,101.4Z" fill="#fff" stroke="#000" stroke-width="1.6" stroke-linejoin="round"/>
<rect x="507.1" y="114.9" width="35.6" height="1.9" fill="#2e4d74"/>
<rect x="507.6" y="118.5" width="34.6" height="1.8" fill="#2e4d74"/>
<rect x="509.1" y="122.1" width="31.6" height="2.8" fill="#2e4d74"/>
<path d="M563.9,101.4 A12.35,12.35 0 1,0 563.9,126.0 A17.63,17.63 0 0,1 563.9,101.4Z" fill="#fff" stroke="#000" stroke-width="1.6" stroke-linejoin="round"/>
<rect x="541.6" y="114.9" width="35.6" height="1.9" fill="#2e4d74"/>
<rect x="542.1" y="118.5" width="34.6" height="1.8" fill="#2e4d74"/>
<rect x="543.6" y="122.1" width="31.6" height="2.8" fill="#2e4d74"/>
<polygon points="599.31,116.96 605.90,118.26 606.44,116.23 600.09,114.06" fill="#f3e526" stroke="#cfc070" stroke-width="0.6" stroke-linejoin="round"/>
<polygon points="595.14,120.51 598.88,126.09 600.70,125.04 597.73,119.01" fill="#f3e526" stroke="#cfc070" stroke-width="0.6" stroke-linejoin="round"/>
<polygon points="589.68,120.07 588.38,126.66 590.40,127.20 592.57,120.85" fill="#f3e526" stroke="#cfc070" stroke-width="0.6" stroke-linejoin="round"/>
<polygon points="586.12,115.90 580.55,119.64 581.60,121.46 587.62,118.50" fill="#f3e526" stroke="#cfc070" stroke-width="0.6" stroke-linejoin="round"/>
<polygon points="586.56,110.44 579.97,109.14 579.43,111.17 585.79,113.34" fill="#f3e526" stroke="#cfc070" stroke-width="0.6" stroke-linejoin="round"/>
<polygon points="590.73,106.89 587.00,101.31 585.18,102.36 588.14,108.39" fill="#f3e526" stroke="#cfc070" stroke-width="0.6" stroke-linejoin="round"/>
<polygon points="596.20,107.33 597.50,100.74 595.47,100.20 593.30,106.55" fill="#f3e526" stroke="#cfc070" stroke-width="0.6" stroke-linejoin="round"/>
<polygon points="599.75,111.50 605.33,107.76 604.28,105.94 598.25,108.90" fill="#f3e526" stroke="#cfc070" stroke-width="0.6" stroke-linejoin="round"/>
<circle cx="592.94" cy="113.70" r="6.6" fill="#f3e41e" stroke="#f0a030" stroke-width="1"/>
<rect x="576.6" y="115.6" width="34.6" height="12" fill="#f9f9f9" opacity="0"/>
<rect x="576.6" y="115.9" width="34.6" height="2.3" fill="#4f7bc2"/>
<rect x="576.6" y="118.2" width="34.6" height="2.1" fill="#f4f4f0"/>
<rect x="576.9" y="120.3" width="34" height="1.8" fill="#4f7bc2"/>
<rect x="576.9" y="122.1" width="34" height="2" fill="#e4e4dc"/>
<rect x="578.4" y="124.1" width="31.5" height="3.1" rx="1" fill="#5a86c8"/>
<polygon points="633.84,116.96 640.43,118.26 640.97,116.23 634.61,114.06" fill="#f3e526" stroke="#cfc070" stroke-width="0.6" stroke-linejoin="round"/>
<polygon points="629.67,120.51 633.40,126.09 635.22,125.04 632.26,119.01" fill="#f3e526" stroke="#cfc070" stroke-width="0.6" stroke-linejoin="round"/>
<polygon points="624.20,120.07 622.90,126.66 624.93,127.20 627.10,120.85" fill="#f3e526" stroke="#cfc070" stroke-width="0.6" stroke-linejoin="round"/>
<polygon points="620.65,115.90 615.07,119.64 616.12,121.46 622.15,118.50" fill="#f3e526" stroke="#cfc070" stroke-width="0.6" stroke-linejoin="round"/>
<polygon points="621.09,110.44 614.50,109.14 613.96,111.17 620.31,113.34" fill="#f3e526" stroke="#cfc070" stroke-width="0.6" stroke-linejoin="round"/>
<polygon points="625.26,106.89 621.52,101.31 619.70,102.36 622.67,108.39" fill="#f3e526" stroke="#cfc070" stroke-width="0.6" stroke-linejoin="round"/>
<polygon points="630.72,107.33 632.02,100.74 630.00,100.20 627.83,106.55" fill="#f3e526" stroke="#cfc070" stroke-width="0.6" stroke-linejoin="round"/>
<polygon points="634.28,111.50 639.85,107.76 638.80,105.94 632.78,108.90" fill="#f3e526" stroke="#cfc070" stroke-width="0.6" stroke-linejoin="round"/>
<circle cx="627.46" cy="113.70" r="6.6" fill="#f3e41e" stroke="#f0a030" stroke-width="1"/>
<rect x="611.2" y="115.6" width="34.6" height="12" fill="#f9f9f9" opacity="0"/>
<rect x="611.2" y="115.9" width="34.6" height="2.3" fill="#4f7bc2"/>
<rect x="611.2" y="118.2" width="34.6" height="2.1" fill="#f4f4f0"/>
<rect x="611.5" y="120.3" width="34" height="1.8" fill="#4f7bc2"/>
<rect x="611.5" y="122.1" width="34" height="2" fill="#e4e4dc"/>
<rect x="613.0" y="124.1" width="31.5" height="3.1" rx="1" fill="#5a86c8"/>
<path d="M667.5,101.4 A12.35,12.35 0 1,0 667.5,126.0 A17.63,17.63 0 0,1 667.5,101.4Z" fill="#fff" stroke="#000" stroke-width="1.6" stroke-linejoin="round"/>
<rect x="645.2" y="114.9" width="35.6" height="1.9" fill="#2e4d74"/>
<rect x="645.7" y="118.5" width="34.6" height="1.8" fill="#2e4d74"/>
<rect x="647.2" y="122.1" width="31.6" height="2.8" fill="#2e4d74"/>
<path d="M702.0,101.4 A12.35,12.35 0 1,0 702.0,126.0 A17.63,17.63 0 0,1 702.0,101.4Z" fill="#fff" stroke="#000" stroke-width="1.6" stroke-linejoin="round"/>
<rect x="679.7" y="114.9" width="35.6" height="1.9" fill="#2e4d74"/>
<rect x="680.2" y="118.5" width="34.6" height="1.8" fill="#2e4d74"/>
<rect x="681.7" y="122.1" width="31.6" height="2.8" fill="#2e4d74"/>
<polygon points="737.42,116.96 744.01,118.26 744.55,116.23 738.20,114.06" fill="#f3e526" stroke="#cfc070" stroke-width="0.6" stroke-linejoin="round"/>
<polygon points="733.25,120.51 736.99,126.09 738.81,125.04 735.85,119.01" fill="#f3e526" stroke="#cfc070" stroke-width="0.6" stroke-linejoin="round"/>
<polygon points="727.79,120.07 726.49,126.66 728.52,127.20 730.69,120.85" fill="#f3e526" stroke="#cfc070" stroke-width="0.6" stroke-linejoin="round"/>
<polygon points="724.24,115.90 718.66,119.64 719.71,121.46 725.74,118.50" fill="#f3e526" stroke="#cfc070" stroke-width="0.6" stroke-linejoin="round"/>
<polygon points="724.68,110.44 718.09,109.14 717.55,111.17 723.90,113.34" fill="#f3e526" stroke="#cfc070" stroke-width="0.6" stroke-linejoin="round"/>
<polygon points="728.85,106.89 725.11,101.31 723.29,102.36 726.25,108.39" fill="#f3e526" stroke="#cfc070" stroke-width="0.6" stroke-linejoin="round"/>
<polygon points="734.31,107.33 735.61,100.74 733.58,100.20 731.41,106.55" fill="#f3e526" stroke="#cfc070" stroke-width="0.6" stroke-linejoin="round"/>
<polygon points="737.86,111.50 743.44,107.76 742.39,105.94 736.36,108.90" fill="#f3e526" stroke="#cfc070" stroke-width="0.6" stroke-linejoin="round"/>
<circle cx="731.05" cy="113.70" r="6.6" fill="#f3e41e" stroke="#f0a030" stroke-width="1"/>
<rect x="714.7" y="115.6" width="34.6" height="12" fill="#f9f9f9" opacity="0"/>
<rect x="714.7" y="115.9" width="34.6" height="2.3" fill="#4f7bc2"/>
<rect x="714.7" y="118.2" width="34.6" height="2.1" fill="#f4f4f0"/>
<rect x="715.0" y="120.3" width="34" height="1.8" fill="#4f7bc2"/>
<rect x="715.0" y="122.1" width="34" height="2" fill="#e4e4dc"/>
<rect x="716.5" y="124.1" width="31.5" height="3.1" rx="1" fill="#5a86c8"/>
<polygon points="771.95,116.96 778.54,118.26 779.08,116.23 772.73,114.06" fill="#f3e526" stroke="#cfc070" stroke-width="0.6" stroke-linejoin="round"/>
<polygon points="767.78,120.51 771.52,126.09 773.34,125.04 770.38,119.01" fill="#f3e526" stroke="#cfc070" stroke-width="0.6" stroke-linejoin="round"/>
<polygon points="762.32,120.07 761.02,126.66 763.05,127.20 765.22,120.85" fill="#f3e526" stroke="#cfc070" stroke-width="0.6" stroke-linejoin="round"/>
<polygon points="758.77,115.90 753.19,119.64 754.24,121.46 760.27,118.50" fill="#f3e526" stroke="#cfc070" stroke-width="0.6" stroke-linejoin="round"/>
<polygon points="759.21,110.44 752.62,109.14 752.07,111.17 758.43,113.34" fill="#f3e526" stroke="#cfc070" stroke-width="0.6" stroke-linejoin="round"/>
<polygon points="763.38,106.89 759.64,101.31 757.82,102.36 760.78,108.39" fill="#f3e526" stroke="#cfc070" stroke-width="0.6" stroke-linejoin="round"/>
<polygon points="768.84,107.33 770.14,100.74 768.11,100.20 765.94,106.55" fill="#f3e526" stroke="#cfc070" stroke-width="0.6" stroke-linejoin="round"/>
<polygon points="772.39,111.50 777.97,107.76 776.92,105.94 770.89,108.90" fill="#f3e526" stroke="#cfc070" stroke-width="0.6" stroke-linejoin="round"/>
<circle cx="765.58" cy="113.70" r="6.6" fill="#f3e41e" stroke="#f0a030" stroke-width="1"/>
<rect x="749.3" y="115.6" width="34.6" height="12" fill="#f9f9f9" opacity="0"/>
<rect x="749.3" y="115.9" width="34.6" height="2.3" fill="#4f7bc2"/>
<rect x="749.3" y="118.2" width="34.6" height="2.1" fill="#f4f4f0"/>
<rect x="749.6" y="120.3" width="34" height="1.8" fill="#4f7bc2"/>
<rect x="749.6" y="122.1" width="34" height="2" fill="#e4e4dc"/>
<rect x="751.1" y="124.1" width="31.5" height="3.1" rx="1" fill="#5a86c8"/>
<path d="M805.6,101.4 A12.35,12.35 0 1,0 805.6,126.0 A17.63,17.63 0 0,1 805.6,101.4Z" fill="#fff" stroke="#000" stroke-width="1.6" stroke-linejoin="round"/>
<rect x="783.3" y="114.9" width="35.6" height="1.9" fill="#2e4d74"/>
<rect x="783.8" y="118.5" width="34.6" height="1.8" fill="#2e4d74"/>
<rect x="785.3" y="122.1" width="31.6" height="2.8" fill="#2e4d74"/>
<path d="M840.1,101.4 A12.35,12.35 0 1,0 840.1,126.0 A17.63,17.63 0 0,1 840.1,101.4Z" fill="#fff" stroke="#000" stroke-width="1.6" stroke-linejoin="round"/>
<rect x="817.8" y="114.9" width="35.6" height="1.9" fill="#2e4d74"/>
<rect x="818.3" y="118.5" width="34.6" height="1.8" fill="#2e4d74"/>
<rect x="819.8" y="122.1" width="31.6" height="2.8" fill="#2e4d74"/>
<polygon points="875.54,116.96 882.13,118.26 882.67,116.23 876.31,114.06" fill="#f3e526" stroke="#cfc070" stroke-width="0.6" stroke-linejoin="round"/>
<polygon points="871.37,120.51 875.10,126.09 876.92,125.04 873.96,119.01" fill="#f3e526" stroke="#cfc070" stroke-width="0.6" stroke-linejoin="round"/>
<polygon points="865.90,120.07 864.60,126.66 866.63,127.20 868.80,120.85" fill="#f3e526" stroke="#cfc070" stroke-width="0.6" stroke-linejoin="round"/>
<polygon points="862.35,115.90 856.77,119.64 857.82,121.46 863.85,118.50" fill="#f3e526" stroke="#cfc070" stroke-width="0.6" stroke-linejoin="round"/>
<polygon points="862.79,110.44 856.20,109.14 855.66,111.17 862.01,113.34" fill="#f3e526" stroke="#cfc070" stroke-width="0.6" stroke-linejoin="round"/>
<polygon points="866.96,106.89 863.22,101.31 861.40,102.36 864.37,108.39" fill="#f3e526" stroke="#cfc070" stroke-width="0.6" stroke-linejoin="round"/>
<polygon points="872.42,107.33 873.72,100.74 871.70,100.20 869.53,106.55" fill="#f3e526" stroke="#cfc070" stroke-width="0.6" stroke-linejoin="round"/>
<polygon points="875.98,111.50 881.55,107.76 880.50,105.94 874.48,108.90" fill="#f3e526" stroke="#cfc070" stroke-width="0.6" stroke-linejoin="round"/>
<circle cx="869.16" cy="113.70" r="6.6" fill="#f3e41e" stroke="#f0a030" stroke-width="1"/>
<rect x="852.9" y="115.6" width="34.6" height="12" fill="#f9f9f9" opacity="0"/>
<rect x="852.9" y="115.9" width="34.6" height="2.3" fill="#4f7bc2"/>
<rect x="852.9" y="118.2" width="34.6" height="2.1" fill="#f4f4f0"/>
<rect x="853.2" y="120.3" width="34" height="1.8" fill="#4f7bc2"/>
<rect x="853.2" y="122.1" width="34" height="2" fill="#e4e4dc"/>
<rect x="854.7" y="124.1" width="31.5" height="3.1" rx="1" fill="#5a86c8"/>
<polygon points="910.07,116.96 916.65,118.26 917.20,116.23 910.84,114.06" fill="#f3e526" stroke="#cfc070" stroke-width="0.6" stroke-linejoin="round"/>
<polygon points="905.89,120.51 909.63,126.09 911.45,125.04 908.49,119.01" fill="#f3e526" stroke="#cfc070" stroke-width="0.6" stroke-linejoin="round"/>
<polygon points="900.43,120.07 899.13,126.66 901.16,127.20 903.33,120.85" fill="#f3e526" stroke="#cfc070" stroke-width="0.6" stroke-linejoin="round"/>
<polygon points="896.88,115.90 891.30,119.64 892.35,121.46 898.38,118.50" fill="#f3e526" stroke="#cfc070" stroke-width="0.6" stroke-linejoin="round"/>
<polygon points="897.32,110.44 890.73,109.14 890.19,111.17 896.54,113.34" fill="#f3e526" stroke="#cfc070" stroke-width="0.6" stroke-linejoin="round"/>
<polygon points="901.49,106.89 897.75,101.31 895.93,102.36 898.89,108.39" fill="#f3e526" stroke="#cfc070" stroke-width="0.6" stroke-linejoin="round"/>
<polygon points="906.95,107.33 908.25,100.74 906.22,100.20 904.06,106.55" fill="#f3e526" stroke="#cfc070" stroke-width="0.6" stroke-linejoin="round"/>
<polygon points="910.51,111.50 916.08,107.76 915.03,105.94 909.01,108.90" fill="#f3e526" stroke="#cfc070" stroke-width="0.6" stroke-linejoin="round"/>
<circle cx="903.69" cy="113.70" r="6.6" fill="#f3e41e" stroke="#f0a030" stroke-width="1"/>
<rect x="887.4" y="115.6" width="34.6" height="12" fill="#f9f9f9" opacity="0"/>
<rect x="887.4" y="115.9" width="34.6" height="2.3" fill="#4f7bc2"/>
<rect x="887.4" y="118.2" width="34.6" height="2.1" fill="#f4f4f0"/>
<rect x="887.7" y="120.3" width="34" height="1.8" fill="#4f7bc2"/>
<rect x="887.7" y="122.1" width="34" height="2" fill="#e4e4dc"/>
<rect x="889.2" y="124.1" width="31.5" height="3.1" rx="1" fill="#5a86c8"/>
<path d="M943.7,101.4 A12.35,12.35 0 1,0 943.7,126.0 A17.63,17.63 0 0,1 943.7,101.4Z" fill="#fff" stroke="#000" stroke-width="1.6" stroke-linejoin="round"/>
<rect x="921.4" y="114.9" width="35.6" height="1.9" fill="#2e4d74"/>
<rect x="921.9" y="118.5" width="34.6" height="1.8" fill="#2e4d74"/>
<rect x="923.4" y="122.1" width="31.6" height="2.8" fill="#2e4d74"/>
<path d="M974.2,100.8 A12.72,12.72 0 1,0 974.2,126.0 A17.18,17.18 0 0,1 974.2,100.8Z" fill="#fff" stroke="#000" stroke-width="1.75" stroke-linejoin="round"/>
<g fill="#2f5684" stroke="#2f5684" stroke-width="3.6"><circle cx="970.39" cy="120.99" r="4.70"/><circle cx="976.66" cy="117.33" r="6.01"/><circle cx="982.80" cy="120.86" r="4.83"/><rect x="970.39" y="119.55" width="12.40" height="6.14"/></g>
<g fill="#d3d3d3"><circle cx="970.39" cy="120.99" r="4.70"/><circle cx="976.66" cy="117.33" r="6.01"/><circle cx="982.80" cy="120.86" r="4.83"/><rect x="970.39" y="119.55" width="12.40" height="6.14"/></g>
<polygon points="1011.67,114.86 1018.26,116.16 1018.80,114.13 1012.45,111.96" fill="#f3e526" stroke="#cfc070" stroke-width="0.6" stroke-linejoin="round"/>
<polygon points="1007.50,118.41 1011.24,123.99 1013.06,122.94 1010.10,116.91" fill="#f3e526" stroke="#cfc070" stroke-width="0.6" stroke-linejoin="round"/>
<polygon points="1002.04,117.97 1000.74,124.56 1002.77,125.10 1004.94,118.75" fill="#f3e526" stroke="#cfc070" stroke-width="0.6" stroke-linejoin="round"/>
<polygon points="998.49,113.80 992.91,117.54 993.96,119.36 999.99,116.40" fill="#f3e526" stroke="#cfc070" stroke-width="0.6" stroke-linejoin="round"/>
<polygon points="998.93,108.34 992.34,107.04 991.80,109.07 998.15,111.24" fill="#f3e526" stroke="#cfc070" stroke-width="0.6" stroke-linejoin="round"/>
<polygon points="1003.10,104.79 999.36,99.21 997.54,100.26 1000.50,106.29" fill="#f3e526" stroke="#cfc070" stroke-width="0.6" stroke-linejoin="round"/>
<polygon points="1008.56,105.23 1009.86,98.64 1007.83,98.10 1005.66,104.45" fill="#f3e526" stroke="#cfc070" stroke-width="0.6" stroke-linejoin="round"/>
<polygon points="1012.11,109.40 1017.69,105.66 1016.64,103.84 1010.61,106.80" fill="#f3e526" stroke="#cfc070" stroke-width="0.6" stroke-linejoin="round"/>
<circle cx="1005.30" cy="111.60" r="6.6" fill="#f3e41e" stroke="#f0a030" stroke-width="1"/>
<g fill="#2d68c0" stroke="#2d68c0" stroke-width="3.2"><circle cx="1009.84" cy="121.18" r="3.10"/><circle cx="1013.97" cy="118.77" r="3.96"/><circle cx="1018.02" cy="121.09" r="3.19"/><rect x="1009.84" y="120.23" width="8.18" height="4.05"/></g>
<g fill="#ffffff"><circle cx="1009.84" cy="121.18" r="3.10"/><circle cx="1013.97" cy="118.77" r="3.96"/><circle cx="1018.02" cy="121.09" r="3.19"/><rect x="1009.84" y="120.23" width="8.18" height="4.05"/></g>
<polygon points="1051.77,116.06 1058.36,117.36 1058.90,115.33 1052.55,113.16" fill="#f3e526" stroke="#cfc070" stroke-width="0.6" stroke-linejoin="round"/>
<polygon points="1047.60,119.61 1051.34,125.19 1053.16,124.14 1050.20,118.11" fill="#f3e526" stroke="#cfc070" stroke-width="0.6" stroke-linejoin="round"/>
<polygon points="1042.14,119.17 1040.84,125.76 1042.87,126.30 1045.04,119.95" fill="#f3e526" stroke="#cfc070" stroke-width="0.6" stroke-linejoin="round"/>
<polygon points="1038.59,115.00 1033.01,118.74 1034.06,120.56 1040.09,117.60" fill="#f3e526" stroke="#cfc070" stroke-width="0.6" stroke-linejoin="round"/>
<polygon points="1039.03,109.54 1032.44,108.24 1031.90,110.27 1038.25,112.44" fill="#f3e526" stroke="#cfc070" stroke-width="0.6" stroke-linejoin="round"/>
<polygon points="1043.20,105.99 1039.46,100.41 1037.64,101.46 1040.60,107.49" fill="#f3e526" stroke="#cfc070" stroke-width="0.6" stroke-linejoin="round"/>
<polygon points="1048.66,106.43 1049.96,99.84 1047.93,99.30 1045.76,105.65" fill="#f3e526" stroke="#cfc070" stroke-width="0.6" stroke-linejoin="round"/>
<polygon points="1052.21,110.60 1057.79,106.86 1056.74,105.04 1050.71,108.00" fill="#f3e526" stroke="#cfc070" stroke-width="0.6" stroke-linejoin="round"/>
<circle cx="1045.40" cy="112.80" r="6.6" fill="#f3e41e" stroke="#f0a030" stroke-width="1"/>
<g fill="#2d68c0" stroke="#2d68c0" stroke-width="3.6"><circle cx="1031.71" cy="122.51" r="4.30"/><circle cx="1037.44" cy="119.17" r="5.49"/><circle cx="1043.05" cy="122.39" r="4.42"/><rect x="1031.71" y="121.20" width="11.35" height="5.61"/></g>
<g fill="#d3d3d3"><circle cx="1031.71" cy="122.51" r="4.30"/><circle cx="1037.44" cy="119.17" r="5.49"/><circle cx="1043.05" cy="122.39" r="4.42"/><rect x="1031.71" y="121.20" width="11.35" height="5.61"/></g>
<path d="M1076.8,100.8 A12.72,12.72 0 1,0 1076.8,126.0 A17.18,17.18 0 0,1 1076.8,100.8Z" fill="#fff" stroke="#000" stroke-width="1.75" stroke-linejoin="round"/>
<g fill="#2f5684" stroke="#2f5684" stroke-width="3.6"><circle cx="1074.07" cy="120.73" r="4.80"/><circle cx="1080.47" cy="117.00" r="6.13"/><circle cx="1086.73" cy="120.60" r="4.93"/><rect x="1074.07" y="119.27" width="12.67" height="6.27"/></g>
<g fill="#d3d3d3"><circle cx="1074.07" cy="120.73" r="4.80"/><circle cx="1080.47" cy="117.00" r="6.13"/><circle cx="1086.73" cy="120.60" r="4.93"/><rect x="1074.07" y="119.27" width="12.67" height="6.27"/></g>
<circle cx="127.10" cy="153.0" r="3.9" fill="none" stroke="#000" stroke-width="1.9"/>
<circle cx="144.36" cy="153.0" r="3.9" fill="none" stroke="#000" stroke-width="1.9"/>
<circle cx="161.63" cy="153.0" r="3.9" fill="none" stroke="#000" stroke-width="1.9"/>
<circle cx="178.89" cy="153.0" r="3.9" fill="none" stroke="#000" stroke-width="1.9"/>
<circle cx="196.16" cy="153.0" r="3.9" fill="none" stroke="#000" stroke-width="1.9"/>
<path d="M223.47,145.16 L204.78,160.84 M207.30,158.72 L202.80,156.12" stroke="#000" stroke-width="2" fill="none" stroke-linecap="butt"/>
<path d="M239.23,143.65 L223.54,162.35 M225.66,159.82 L220.78,158.04" stroke="#000" stroke-width="2" fill="none" stroke-linecap="butt"/>
<path d="M257.72,144.84 L239.58,161.16 M242.04,158.96 L237.44,156.51" stroke="#000" stroke-width="2" fill="none" stroke-linecap="butt"/>
<path d="M274.98,144.84 L256.85,161.16 M259.30,158.96 L254.71,156.51" stroke="#000" stroke-width="2" fill="none" stroke-linecap="butt"/>
<path d="M291.81,144.37 L274.55,161.63 M276.89,159.29 L272.17,157.10" stroke="#000" stroke-width="2" fill="none" stroke-linecap="butt"/>
<path d="M309.79,145.16 L291.10,160.84 M293.63,158.72 L289.12,156.12" stroke="#000" stroke-width="2" fill="none" stroke-linecap="butt"/>
<circle cx="317.01" cy="153.0" r="3.9" fill="none" stroke="#000" stroke-width="1.9"/>
<path d="M342.81,143.65 L327.13,162.35 M329.25,159.82 L324.36,158.04" stroke="#000" stroke-width="2" fill="none" stroke-linecap="butt"/>
<path d="M359.75,143.39 L344.72,162.61 M346.76,160.01 L341.81,158.41" stroke="#000" stroke-width="2" fill="none" stroke-linecap="butt"/>
<circle cx="368.80" cy="153.0" r="3.9" fill="none" stroke="#000" stroke-width="1.9"/>
<circle cx="386.06" cy="153.0" r="3.9" fill="none" stroke="#000" stroke-width="1.9"/>
<circle cx="403.33" cy="153.0" r="3.9" fill="none" stroke="#000" stroke-width="1.9"/>
<circle cx="420.59" cy="153.0" r="3.9" fill="none" stroke="#000" stroke-width="1.9"/>
<circle cx="437.86" cy="153.0" r="3.9" fill="none" stroke="#000" stroke-width="1.9"/>
<circle cx="455.12" cy="153.0" r="3.9" fill="none" stroke="#000" stroke-width="1.9"/>
<circle cx="472.39" cy="153.0" r="3.9" fill="none" stroke="#000" stroke-width="1.9"/>
<circle cx="489.65" cy="153.0" r="3.9" fill="none" stroke="#000" stroke-width="1.9"/>
<circle cx="506.91" cy="153.0" r="3.9" fill="none" stroke="#000" stroke-width="1.9"/>
<circle cx="524.18" cy="153.0" r="3.9" fill="none" stroke="#000" stroke-width="1.9"/>
<circle cx="541.44" cy="153.0" r="3.9" fill="none" stroke="#000" stroke-width="1.9"/>
<circle cx="558.71" cy="153.0" r="3.9" fill="none" stroke="#000" stroke-width="1.9"/>
<circle cx="575.97" cy="153.0" r="3.9" fill="none" stroke="#000" stroke-width="1.9"/>
<circle cx="593.24" cy="153.0" r="3.9" fill="none" stroke="#000" stroke-width="1.9"/>
<circle cx="610.50" cy="153.0" r="3.9" fill="none" stroke="#000" stroke-width="1.9"/>
<circle cx="627.76" cy="153.0" r="3.9" fill="none" stroke="#000" stroke-width="1.9"/>
<circle cx="645.03" cy="153.0" r="3.9" fill="none" stroke="#000" stroke-width="1.9"/>
<circle cx="662.29" cy="153.0" r="3.9" fill="none" stroke="#000" stroke-width="1.9"/>
<circle cx="679.56" cy="153.0" r="3.9" fill="none" stroke="#000" stroke-width="1.9"/>
<circle cx="696.82" cy="153.0" r="3.9" fill="none" stroke="#000" stroke-width="1.9"/>
<circle cx="714.09" cy="153.0" r="3.9" fill="none" stroke="#000" stroke-width="1.9"/>
<circle cx="731.35" cy="153.0" r="3.9" fill="none" stroke="#000" stroke-width="1.9"/>
<circle cx="748.61" cy="153.0" r="3.9" fill="none" stroke="#000" stroke-width="1.9"/>
<circle cx="765.88" cy="153.0" r="3.9" fill="none" stroke="#000" stroke-width="1.9"/>
<circle cx="783.14" cy="153.0" r="3.9" fill="none" stroke="#000" stroke-width="1.9"/>
<circle cx="800.41" cy="153.0" r="3.9" fill="none" stroke="#000" stroke-width="1.9"/>
<circle cx="817.67" cy="153.0" r="3.9" fill="none" stroke="#000" stroke-width="1.9"/>
<circle cx="834.94" cy="153.0" r="3.9" fill="none" stroke="#000" stroke-width="1.9"/>
<circle cx="852.20" cy="153.0" r="3.9" fill="none" stroke="#000" stroke-width="1.9"/>
<circle cx="869.46" cy="153.0" r="3.9" fill="none" stroke="#000" stroke-width="1.9"/>
<circle cx="886.73" cy="153.0" r="3.9" fill="none" stroke="#000" stroke-width="1.9"/>
<circle cx="903.99" cy="153.0" r="3.9" fill="none" stroke="#000" stroke-width="1.9"/>
<circle cx="921.26" cy="153.0" r="3.9" fill="none" stroke="#000" stroke-width="1.9"/>
<circle cx="938.52" cy="153.0" r="3.9" fill="none" stroke="#000" stroke-width="1.9"/>
<circle cx="955.79" cy="153.0" r="3.9" fill="none" stroke="#000" stroke-width="1.9"/>
<circle cx="973.05" cy="153.0" r="3.9" fill="none" stroke="#000" stroke-width="1.9"/>
<circle cx="990.31" cy="153.0" r="3.9" fill="none" stroke="#000" stroke-width="1.9"/>
<circle cx="1007.58" cy="153.0" r="3.9" fill="none" stroke="#000" stroke-width="1.9"/>
<circle cx="1024.84" cy="153.0" r="3.9" fill="none" stroke="#000" stroke-width="1.9"/>
<circle cx="1042.11" cy="153.0" r="3.9" fill="none" stroke="#000" stroke-width="1.9"/>
<circle cx="1059.37" cy="153.0" r="3.9" fill="none" stroke="#000" stroke-width="1.9"/>
<circle cx="1076.64" cy="153.0" r="3.9" fill="none" stroke="#000" stroke-width="1.9"/>
<circle cx="1094.10" cy="153.0" r="3.9" fill="none" stroke="#000" stroke-width="1.9"/>
<text x="122.5" y="365.7" font-size="17.5" fill="#000" text-anchor="end" textLength="11.1" lengthAdjust="spacingAndGlyphs" >0</text>
<text x="122.5" y="328.4" font-size="17.5" fill="#000" text-anchor="end" textLength="11.1" lengthAdjust="spacingAndGlyphs" >1</text>
<text x="122.5" y="291.2" font-size="17.5" fill="#000" text-anchor="end" textLength="11.1" lengthAdjust="spacingAndGlyphs" >2</text>
<text x="122.5" y="254.0" font-size="17.5" fill="#000" text-anchor="end" textLength="11.1" lengthAdjust="spacingAndGlyphs" >3</text>
<text x="122.5" y="216.7" font-size="17.5" fill="#000" text-anchor="end" textLength="11.1" lengthAdjust="spacingAndGlyphs" >4</text>
<text x="122.5" y="179.5" font-size="17.5" fill="#000" text-anchor="end" textLength="11.1" lengthAdjust="spacingAndGlyphs" >5</text>
<text x="1098.5" y="365.0" font-size="17.5" fill="#000" text-anchor="start" textLength="11.1" lengthAdjust="spacingAndGlyphs" >0</text>
<text x="1098.5" y="327.8" font-size="17.5" fill="#000" text-anchor="start" textLength="27.8" lengthAdjust="spacingAndGlyphs" >1.5</text>
<text x="1098.5" y="290.5" font-size="17.5" fill="#000" text-anchor="start" textLength="27.8" lengthAdjust="spacingAndGlyphs" >3.5</text>
<text x="1098.5" y="253.2" font-size="17.5" fill="#000" text-anchor="start" textLength="27.8" lengthAdjust="spacingAndGlyphs" >6.0</text>
<text x="1098.5" y="216.0" font-size="17.5" fill="#000" text-anchor="start" textLength="27.8" lengthAdjust="spacingAndGlyphs" >9.0</text>
<text x="1098.5" y="178.8" font-size="17.5" fill="#000" text-anchor="start" textLength="22.3" lengthAdjust="spacingAndGlyphs" >14</text>
<text x="46.5" y="365.0" font-size="17" fill="#ff0000" text-anchor="start" textLength="16.9" lengthAdjust="spacingAndGlyphs" >-5</text>
<text x="46.5" y="327.8" font-size="17" fill="#ff0000" text-anchor="start" textLength="16.9" lengthAdjust="spacingAndGlyphs" >-1</text>
<text x="46.5" y="290.5" font-size="17" fill="#ff0000" text-anchor="start" textLength="10.8" lengthAdjust="spacingAndGlyphs" >3</text>
<text x="46.5" y="253.2" font-size="17" fill="#ff0000" text-anchor="start" textLength="10.8" lengthAdjust="spacingAndGlyphs" >7</text>
<text x="46.5" y="216.0" font-size="17" fill="#ff0000" text-anchor="start" textLength="21.6" lengthAdjust="spacingAndGlyphs" >11</text>
<text x="46.5" y="178.8" font-size="17" fill="#ff0000" text-anchor="start" textLength="21.6" lengthAdjust="spacingAndGlyphs" >15</text>
<text x="161.5" y="377.2" font-size="17.5" fill="#000" text-anchor="middle" textLength="22.3" lengthAdjust="spacingAndGlyphs" >06</text>
<text x="196.1" y="377.2" font-size="17.5" fill="#000" text-anchor="middle" textLength="22.3" lengthAdjust="spacingAndGlyphs" >12</text>
<text x="230.6" y="377.2" font-size="17.5" fill="#000" text-anchor="middle" textLength="22.3" lengthAdjust="spacingAndGlyphs" >18</text>
<text x="265.1" y="377.2" font-size="17.5" fill="#000" text-anchor="middle" textLength="26.7" lengthAdjust="spacingAndGlyphs" >sre</text>
<text x="299.6" y="377.2" font-size="17.5" fill="#000" text-anchor="middle" textLength="22.3" lengthAdjust="spacingAndGlyphs" >06</text>
<text x="334.2" y="377.2" font-size="17.5" fill="#000" text-anchor="middle" textLength="22.3" lengthAdjust="spacingAndGlyphs" >12</text>
<text x="368.7" y="377.2" font-size="17.5" fill="#000" text-anchor="middle" textLength="22.3" lengthAdjust="spacingAndGlyphs" >18</text>
<text x="403.2" y="377.2" font-size="17.5" fill="#000" text-anchor="middle" textLength="27.2" lengthAdjust="spacingAndGlyphs" >čet</text>
<text x="437.8" y="377.2" font-size="17.5" fill="#000" text-anchor="middle" textLength="22.3" lengthAdjust="spacingAndGlyphs" >06</text>
<text x="472.3" y="377.2" font-size="17.5" fill="#000" text-anchor="middle" textLength="22.3" lengthAdjust="spacingAndGlyphs" >12</text>
<text x="506.8" y="377.2" font-size="17.5" fill="#000" text-anchor="middle" textLength="22.3" lengthAdjust="spacingAndGlyphs" >18</text>
<text x="541.3" y="377.2" font-size="17.5" fill="#000" text-anchor="middle" textLength="28.7" lengthAdjust="spacingAndGlyphs" >pet</text>
<text x="575.9" y="377.2" font-size="17.5" fill="#000" text-anchor="middle" textLength="22.3" lengthAdjust="spacingAndGlyphs" >06</text>
<text x="610.4" y="377.2" font-size="17.5" fill="#000" text-anchor="middle" textLength="22.3" lengthAdjust="spacingAndGlyphs" >12</text>
<text x="644.9" y="377.2" font-size="17.5" fill="#000" text-anchor="middle" textLength="22.3" lengthAdjust="spacingAndGlyphs" >18</text>
<text x="679.5" y="377.2" font-size="17.5" fill="#000" text-anchor="middle" textLength="30.9" lengthAdjust="spacingAndGlyphs" >sob</text>
<text x="714.0" y="377.2" font-size="17.5" fill="#000" text-anchor="middle" textLength="22.3" lengthAdjust="spacingAndGlyphs" >06</text>
<text x="748.5" y="377.2" font-size="17.5" fill="#000" text-anchor="middle" textLength="22.3" lengthAdjust="spacingAndGlyphs" >12</text>
<text x="783.0" y="377.2" font-size="17.5" fill="#000" text-anchor="middle" textLength="22.3" lengthAdjust="spacingAndGlyphs" >18</text>
<text x="817.6" y="377.2" font-size="17.5" fill="#000" text-anchor="middle" textLength="33.0" lengthAdjust="spacingAndGlyphs" >ned</text>
<text x="852.1" y="377.2" font-size="17.5" fill="#000" text-anchor="middle" textLength="22.3" lengthAdjust="spacingAndGlyphs" >06</text>
<text x="886.6" y="377.2" font-size="17.5" fill="#000" text-anchor="middle" textLength="22.3" lengthAdjust="spacingAndGlyphs" >12</text>
<text x="921.2" y="377.2" font-size="17.5" fill="#000" text-anchor="middle" textLength="22.3" lengthAdjust="spacingAndGlyphs" >18</text>
<text x="955.7" y="377.2" font-size="17.5" fill="#000" text-anchor="middle" textLength="32.9" lengthAdjust="spacingAndGlyphs" >pon</text>
<text x="990.2" y="377.2" font-size="17.5" fill="#000" text-anchor="middle" textLength="22.3" lengthAdjust="spacingAndGlyphs" >06</text>
<text x="1024.7" y="377.2" font-size="17.5" fill="#000" text-anchor="middle" textLength="22.3" lengthAdjust="spacingAndGlyphs" >12</text>
<text x="1059.3" y="377.2" font-size="17.5" fill="#000" text-anchor="middle" textLength="22.3" lengthAdjust="spacingAndGlyphs" >18</text>
<text x="196.3" y="69.0" font-size="17.7" fill="#000" text-anchor="middle" textLength="45.8" lengthAdjust="spacingAndGlyphs" >torek</text>
<text x="196.3" y="89.6" font-size="17.7" fill="#000" text-anchor="middle" textLength="50.7" lengthAdjust="spacingAndGlyphs" >09.12</text>
<text x="334.4" y="69.0" font-size="17.7" fill="#000" text-anchor="middle" textLength="49.1" lengthAdjust="spacingAndGlyphs" >sreda</text>
<text x="334.4" y="89.6" font-size="17.7" fill="#000" text-anchor="middle" textLength="50.7" lengthAdjust="spacingAndGlyphs" >10.12</text>
<text x="472.5" y="69.0" font-size="17.7" fill="#000" text-anchor="middle" textLength="62.9" lengthAdjust="spacingAndGlyphs" >četrtek</text>
<text x="472.5" y="89.6" font-size="17.7" fill="#000" text-anchor="middle" textLength="50.7" lengthAdjust="spacingAndGlyphs" >11.12</text>
<text x="610.6" y="69.0" font-size="17.7" fill="#000" text-anchor="middle" textLength="50.2" lengthAdjust="spacingAndGlyphs" >petek</text>
<text x="610.6" y="89.6" font-size="17.7" fill="#000" text-anchor="middle" textLength="50.7" lengthAdjust="spacingAndGlyphs" >12.12</text>
<text x="748.7" y="69.0" font-size="17.7" fill="#d10000" text-anchor="middle" textLength="59.9" lengthAdjust="spacingAndGlyphs" >sobota</text>
<text x="748.7" y="89.6" font-size="17.7" fill="#d10000" text-anchor="middle" textLength="50.7" lengthAdjust="spacingAndGlyphs" >13.12</text>
<text x="886.8" y="69.0" font-size="17.7" fill="#d10000" text-anchor="middle" textLength="64.9" lengthAdjust="spacingAndGlyphs" >nedelja</text>
<text x="886.8" y="89.6" font-size="17.7" fill="#d10000" text-anchor="middle" textLength="50.7" lengthAdjust="spacingAndGlyphs" >14.12</text>
<text x="1024.9" y="69.0" font-size="17.7" fill="#000" text-anchor="middle" textLength="97.3" lengthAdjust="spacingAndGlyphs" >ponedeljek</text>
<text x="1024.9" y="89.6" font-size="17.7" fill="#000" text-anchor="middle" textLength="50.7" lengthAdjust="spacingAndGlyphs" >15.12</text>
<text transform="translate(35.2,267) rotate(-90)" font-size="21.2" fill="#ff0000" text-anchor="middle">Temperatura (°C)</text>
<text transform="translate(100,263.5) rotate(-90)" font-size="19.6" fill="#000" text-anchor="middle" textLength="166.0" lengthAdjust="spacingAndGlyphs">Padavine (mm/h)</text>
<text transform="translate(1145,255) rotate(-90)" font-size="19" fill="#000" text-anchor="middle" textLength="186.9" lengthAdjust="spacingAndGlyphs">Višina oblakov (km)</text>
<text x="10.0" y="22.3" font-size="16" fill="#0000ff" text-anchor="start" >(kraj lahko izberete v meniju)</text>
<text x="399.0" y="38.0" font-size="23.6" fill="#0000ff" text-anchor="start" >Logatec 7 dni</text>
<text x="1142.0" y="22.3" font-size="16" fill="#0000ff" text-anchor="end" >Zadnja posodobitev: 09.12.2025 - 00:05</text>
<rect x="165" y="386" width="105" height="19.8" fill="#fff"/>
<rect x="127" y="390" width="32" height="10.6" fill="#0044ff"/>
<text x="169.0" y="401.9" font-size="20" fill="#000" text-anchor="start" >Dež</text>
<rect x="310" y="385.8" width="109.7" height="19.6" fill="#fff"/>
<rect x="278" y="389.8" width="32" height="11.2" fill="#0dd8c4"/>
<text x="319.0" y="401.7" font-size="19.6" fill="#000" text-anchor="start" >Možnost ploh</text>
<text x="499.5" y="401.5" font-size="15.8" fill="#0000ff" text-anchor="start" >© vreme.us &amp; vreme.pro</text>
<rect x="759" y="385.4" width="181" height="20.6" fill="#fff"/>
<text x="759.5" y="401.7" font-size="19.5" fill="#000" text-anchor="start" >Gostota oblakov (%)</text>
<rect x="949.5" y="385.5" width="29" height="13" fill="#d3d3d3"/>
<rect x="978.5" y="385.5" width="29" height="13" fill="#b3b4b3"/>
<rect x="1007.5" y="385.5" width="29" height="13" fill="#939393"/>
<rect x="1036.5" y="385.5" width="29" height="13" fill="#747474"/>
<rect x="1065.5" y="385.5" width="29" height="13" fill="#565656"/>
<rect x="949.5" y="385.5" width="145" height="13" fill="none" stroke="#222" stroke-width="1.1"/>
<text x="950.0" y="415.0" font-size="17" fill="#000" text-anchor="middle" textLength="21.6" lengthAdjust="spacingAndGlyphs" >10</text>
<text x="978.0" y="415.0" font-size="17" fill="#000" text-anchor="middle" textLength="21.6" lengthAdjust="spacingAndGlyphs" >25</text>
<text x="1006.7" y="415.0" font-size="17" fill="#000" text-anchor="middle" textLength="21.6" lengthAdjust="spacingAndGlyphs" >50</text>
<text x="1035.0" y="415.0" font-size="17" fill="#000" text-anchor="middle" textLength="21.6" lengthAdjust="spacingAndGlyphs" >75</text>
<text x="1064.6" y="415.0" font-size="17" fill="#000" text-anchor="middle" textLength="21.6" lengthAdjust="spacingAndGlyphs" >90</text>
<text x="1094.5" y="415.0" font-size="17" fill="#000" text-anchor="middle" textLength="32.4" lengthAdjust="spacingAndGlyphs" >100</text>
</svg></body></html>
